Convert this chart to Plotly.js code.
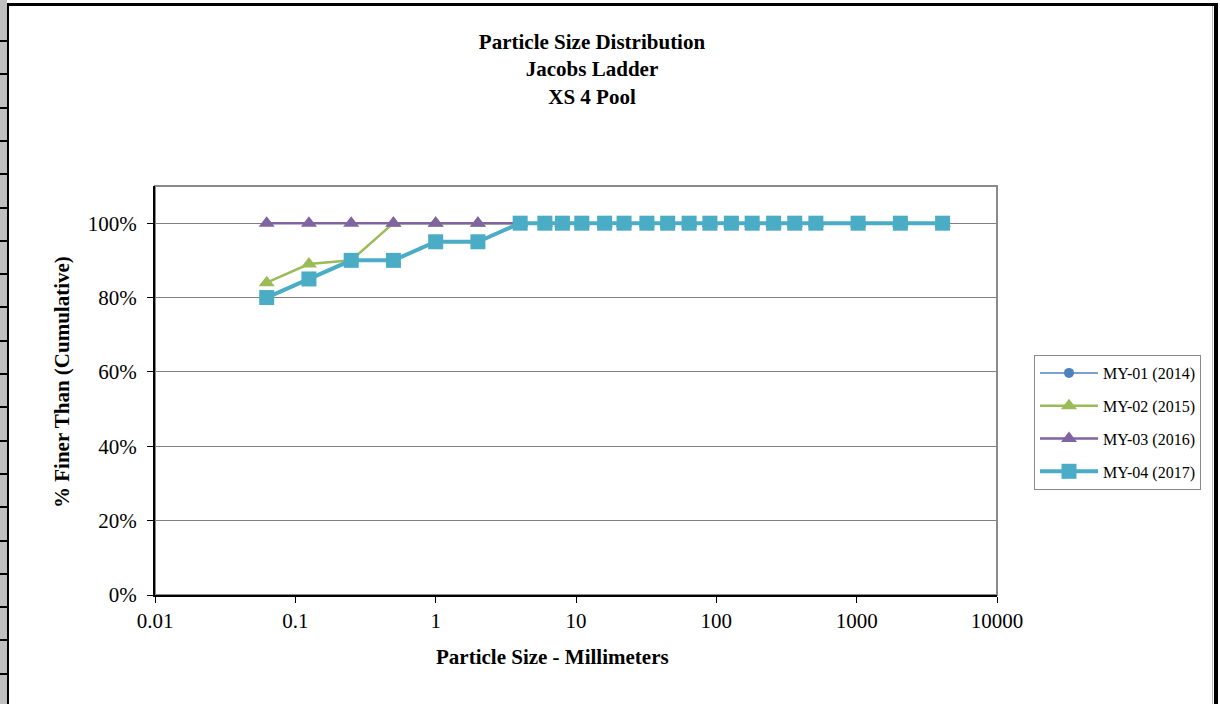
<!DOCTYPE html>
<html>
<head>
<meta charset="utf-8">
<script src="https://cdn.plot.ly/plotly-3.0.1.min.js"></script>
<style>
  html, body { margin: 0; padding: 0; background: #fff; }
  #wrap { position: relative; width: 1220px; height: 704px; overflow: hidden; }
  #chart { position: absolute; left: 0; top: 0; width: 1220px; height: 704px; }
  .deco { position: absolute; background: #000; }
  .cell { position: absolute; left: 0; width: 7px; background: #c0c0c0; }
</style>
</head>
<body>
<div id="wrap">
  <div id="chart"></div>
</div>
<script>
// ---- data ----
const sizesMM = [0.0625, 0.125, 0.25, 0.5, 1, 2, 4, 6, 8, 11, 16, 22, 32, 45, 64, 90, 128, 180, 256, 362, 512, 1024, 2048, 4096];
const my01 = [];
const my02 = [0.84, 0.89, 0.90, 1.00, 1.00, 1.00, 1.00, 1.00, 1.00, 1.00, 1.00, 1.00, 1.00, 1.00, 1.00, 1.00, 1.00, 1.00, 1.00, 1.00, 1.00, 1.00, 1.00, 1.00];
const my03 = [1.00, 1.00, 1.00, 1.00, 1.00, 1.00, 1.00, 1.00, 1.00, 1.00, 1.00, 1.00, 1.00, 1.00, 1.00, 1.00, 1.00, 1.00, 1.00, 1.00, 1.00, 1.00, 1.00, 1.00];
const my04 = [0.80, 0.85, 0.90, 0.90, 0.95, 0.95, 1.00, 1.00, 1.00, 1.00, 1.00, 1.00, 1.00, 1.00, 1.00, 1.00, 1.00, 1.00, 1.00, 1.00, 1.00, 1.00, 1.00, 1.00];
const seriesNames = ["MY-01 (2014)", "MY-02 (2015)", "MY-03 (2016)", "MY-04 (2017)"];
const xTickVals = [0.01, 0.1, 1, 10, 100, 1000, 10000];
const xTickText = ["0.01", "0.1", "1", "10", "100", "1000", "10000"];
const yTickVals = [0, 0.2, 0.4, 0.6, 0.8, 1.0];
const yTickText = ["0%", "20%", "40%", "60%", "80%", "100%"];

// ---- frame decoration (spreadsheet edge) ----
const wrap = document.getElementById('wrap');
function addDiv(cls, l, t, w, h, bg) {
  const d = document.createElement('div');
  d.className = cls;
  d.style.left = l + 'px'; d.style.top = t + 'px';
  d.style.width = w + 'px'; d.style.height = h + 'px';
  if (bg) d.style.background = bg;
  wrap.appendChild(d);
}
addDiv('cell', 0, 0, 7, 704, '#c0c0c0');
for (let k = 0; k < 20; k++) addDiv('deco', 0, Math.round(40 + k * 33.3), 8, 2);
addDiv('deco', 7, 3, 2, 701);      // left vertical
addDiv('deco', 7, 3, 1211, 3);     // top
addDiv('deco', 1214, 3, 4, 701);   // right
addDiv('deco', 1212, 6, 1, 698, '#bdbdbd');

const serif = "'Liberation Serif', 'Times New Roman', serif";

const traces = [
  { name: seriesNames[0], x: my01.length ? sizesMM : [null], y: my01.length ? my01 : [null], mode: 'lines+markers',
    line: {color: '#4F81BD', width: 1.5}, marker: {symbol: 'circle', size: 10, color: '#4F81BD'}, legendgroup: 'a' },
  { name: seriesNames[1], x: sizesMM, y: my02, mode: 'lines+markers',
    line: {color: '#9BBB59', width: 2.5}, marker: {symbol: 'triangle-up', size: 14, color: '#9BBB59'}, legendgroup: 'b' },
  { name: seriesNames[2], x: sizesMM, y: my03, mode: 'lines+markers',
    line: {color: '#8064A2', width: 2.5}, marker: {symbol: 'triangle-up', size: 14, color: '#8064A2'}, legendgroup: 'c' },
  { name: seriesNames[3], x: sizesMM, y: my04, mode: 'lines+markers',
    line: {color: '#4BACC6', width: 4}, marker: {symbol: 'square', size: 15, color: '#4BACC6'}, legendgroup: 'd' }
];

const layout = {
  width: 1220, height: 704,
  margin: {l: 155, r: 223, t: 186, b: 109, pad: 0},
  paper_bgcolor: 'rgba(0,0,0,0)',
  plot_bgcolor: '#ffffff',
  font: {family: serif, color: '#000', size: 21},
  title: {
    text: '<b>Particle Size Distribution</b><br><b>Jacobs Ladder</b><br><b>XS 4 Pool</b>',
    font: {family: serif, size: 21, color: '#000'},
    x: 592/1220, xanchor: 'center', xref: 'container',
    y: 1 - 49/704, yanchor: 'middle', yref: 'container'
  },
  xaxis: {
    type: 'log', range: [-2, 4], autorange: false,
    tickvals: xTickVals, ticktext: xTickText,
    ticks: 'outside', ticklen: 6, tickcolor: '#000', tickwidth: 1,
    showline: true, linecolor: '#000', linewidth: 2,
    showgrid: false, zeroline: false,
    tickfont: {family: serif, size: 21, color: '#000'},
    title: {text: ''}
  },
  yaxis: {
    range: [0, 1.1], autorange: false,
    tickvals: yTickVals, ticktext: yTickText,
    ticks: 'outside', ticklen: 6, tickcolor: '#000', tickwidth: 1,
    showline: true, linecolor: '#000', linewidth: 2,
    showgrid: true, gridcolor: '#808080', gridwidth: 1,
    zeroline: false,
    tickfont: {family: serif, size: 21, color: '#000'},
    ticklabelstandoff: 6,
    title: {text: ''}
  },
  shapes: [
    {type: 'rect', xref: 'paper', yref: 'paper', x0: 0, x1: 1, y0: 0, y1: 1,
     line: {color: '#8a8a8a', width: 2}, layer: 'below'}
  ],
  annotations: [
    {text: '<b>Particle Size - Millimeters</b>', xref: 'paper', yref: 'paper',
     x: (552-155)/842, y: (595-657)/409, xanchor: 'center', yanchor: 'middle',
     showarrow: false, font: {family: serif, size: 21, color: '#000'}},
    {text: '<b>% Finer Than (Cumulative)</b>', xref: 'paper', yref: 'paper',
     x: (62-155)/842, y: (595-382)/409, xanchor: 'center', yanchor: 'middle',
     textangle: -90, showarrow: false, font: {family: serif, size: 21, color: '#000'}}
  ],
  showlegend: true,
  legend: {
    x: (1034-155)/842, y: (595-355)/409, xanchor: 'left', yanchor: 'top',
    bordercolor: '#8a8a8a', borderwidth: 1, bgcolor: '#fff',
    font: {family: serif, size: 16, color: '#000'},
    tracegroupgap: 9, itemwidth: 58,
    traceorder: 'grouped'
  }
};

Plotly.newPlot('chart', traces, layout, {displayModeBar: false, staticPlot: true});
</script>
</body>
</html>
